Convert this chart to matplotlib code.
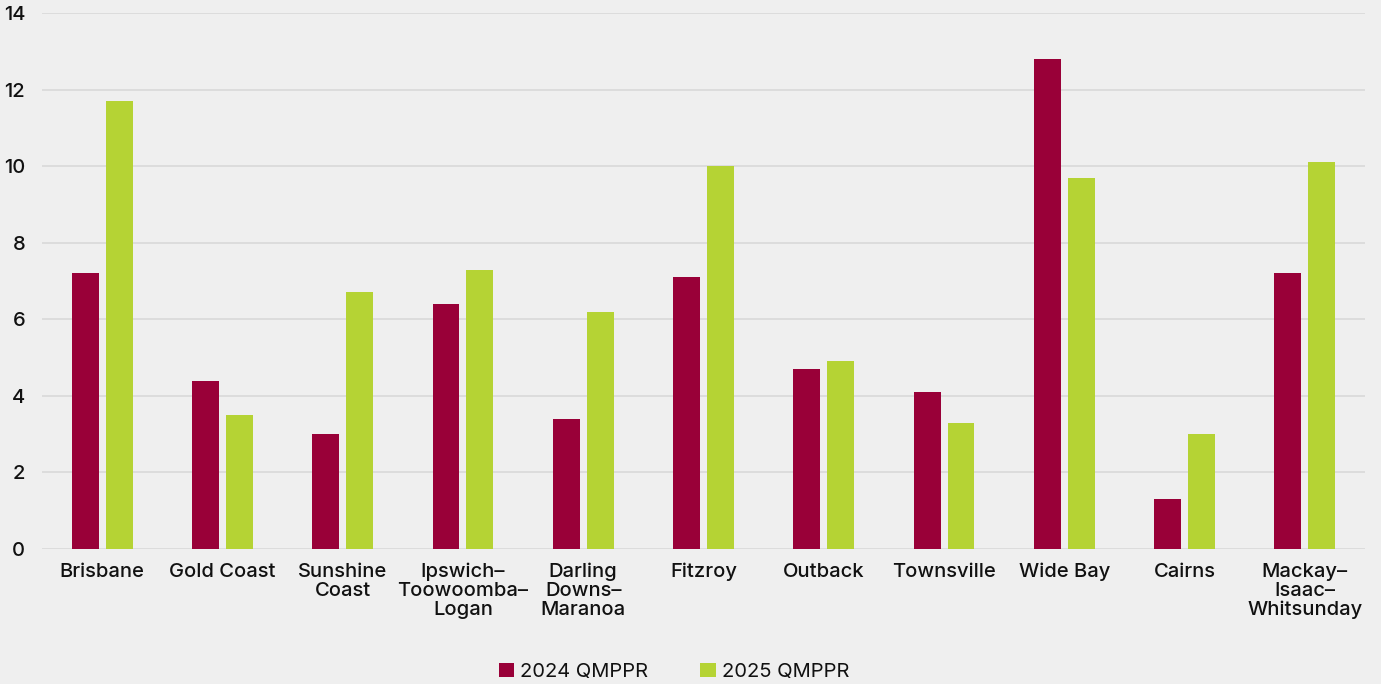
import matplotlib
matplotlib.use("Agg")
import matplotlib.pyplot as plt
import numpy as np

categories = ["Brisbane", "Gold Coast", "Sunshine\nCoast", "Ipswich–\nToowoomba–\nLogan",
              "Darling\nDowns–\nMaranoa", "Fitzroy", "Outback", "Townsville", "Wide Bay",
              "Cairns", "Mackay–\nIsaac–\nWhitsunday"]
series_2024 = [7.2, 4.4, 3.0, 6.4, 3.4, 7.1, 4.7, 4.1, 12.8, 1.3, 7.2]
series_2025 = [11.7, 3.5, 6.7, 7.3, 6.2, 10.0, 4.9, 3.3, 9.7, 3.0, 10.1]
labels = ["2024 QMPPR", "2025 QMPPR"]
yticks = [0, 2, 4, 6, 8, 10, 12, 14]

RED = "#990038"
GREEN = "#B5D334"
BG = "#EFEFEF"

plt.rcParams['font.family'] = ['Inter', 'DejaVu Sans']

fig = plt.figure(figsize=(13.81, 6.84), dpi=100, facecolor=BG)
ax = fig.add_axes([42/1381, 1-549/684, (1365-42)/1381, (549-13)/684])
ax.set_facecolor(BG)

x = np.arange(len(categories))
w = 0.224
off = 0.141
ax.bar(x - off, series_2024, width=w, color=RED, label=labels[0], zorder=3)
ax.bar(x + off, series_2025, width=w, color=GREEN, label=labels[1], zorder=3)

ax.set_xlim(-0.5, len(categories) - 0.5)
ax.set_ylim(0, 14)
ax.set_yticks(yticks)
ax.set_yticklabels([str(t) for t in yticks], fontsize=14.5, color="#111111", fontweight="medium")
ax.set_xticks(x)
ax.set_xticklabels(categories, fontsize=14.5, color="#111111", linespacing=1.05, va="top",
                   fontweight="medium")
ax.tick_params(axis="both", length=0)
ax.tick_params(axis="y", pad=12)
ax.tick_params(axis="x", pad=10)
ax.grid(axis="y", color="#D9D9D9", linewidth=1.2, zorder=0)
for s in ax.spines.values():
    s.set_visible(False)

leg = fig.legend(loc="lower center", bbox_to_anchor=(0.488, -0.022), ncol=2, frameon=False,
                 fontsize=14.5, handlelength=0.75, handleheight=0.75, handletextpad=0.3,
                 columnspacing=2.6)
for t in leg.get_texts():
    t.set_color("#111111")

fig.savefig("out.png", dpi=100, facecolor=BG)
